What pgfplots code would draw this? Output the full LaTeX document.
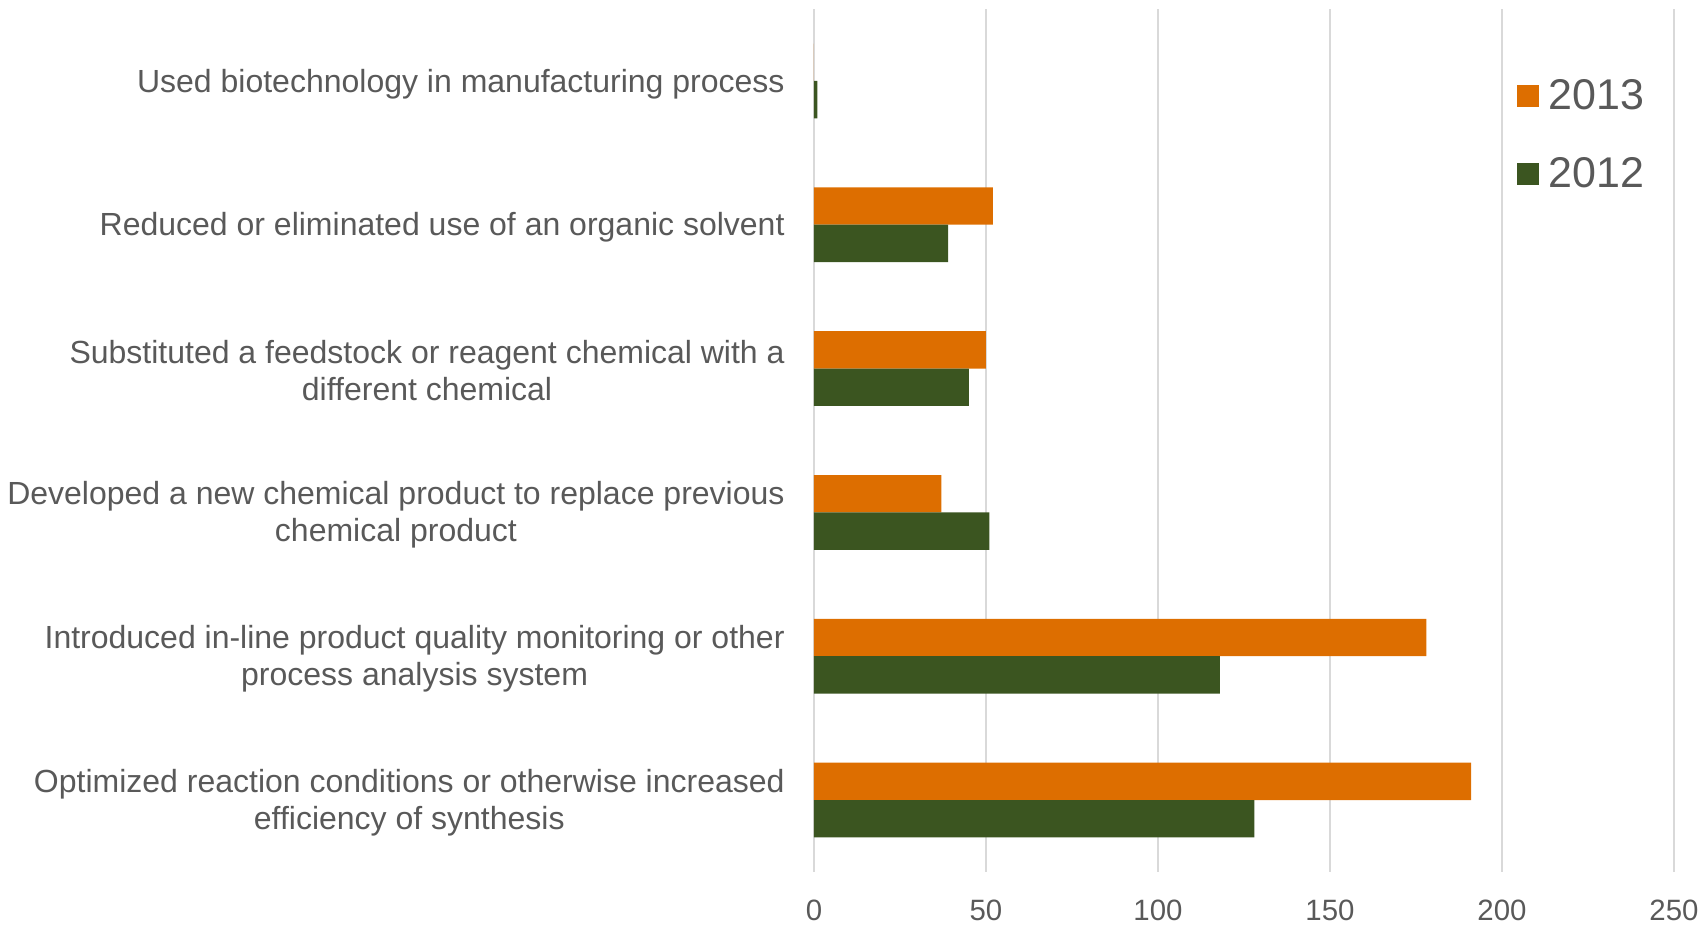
\documentclass[border=0pt]{standalone}
\usepackage{fontspec}
\setmainfont{Liberation Sans}
\usepackage{pgfplots}
\pgfplotsset{compat=1.18}

\definecolor{c2013}{HTML}{DD6E00}
\definecolor{c2012}{HTML}{3B5520}
\definecolor{gridc}{HTML}{D9D9D9}
\definecolor{txt}{HTML}{595959}

\begin{document}
\begin{tikzpicture}
\begin{axis}[
    xbar,
    scale only axis,
    width=430pt, height=431.5pt,
    xmin=0, xmax=250,
    ymin=-0.5, ymax=5.5,
    xtick={0,50,...,250},
    ytick={0,1,2,3,4,5},
    yticklabels={
        {Optimized reaction conditions or otherwise increased\\efficiency of synthesis},
        {Introduced in-line product quality monitoring or other\\process analysis system},
        {Developed a new chemical product to replace previous\\chemical product},
        {Substituted a feedstock or reagent chemical with a\\different chemical},
        {Reduced or eliminated use of an organic solvent},
        {\smash{\raisebox{-4.6pt}{Used biotechnology in manufacturing process}}}
    },
    /pgf/number format/assume math mode=true,
    xmajorgrids,
    grid style={color=gridc, line width=0.65pt},
    axis line style={draw=none},
    major tick length=0pt,
    tick style={draw=none},
    tick label style={text=txt},
    xticklabel style={font=\fontsize{14.7}{17}\selectfont, inner sep=0pt, anchor=north, yshift=-14pt},
    yticklabel style={font=\fontsize{16}{18.5}\selectfont, align=center, inner sep=0pt, anchor=east, xshift=-14.5pt, yshift=-1.2pt},
    bar width=0.26,
    legend cell align=left,
    legend style={
        at={(351.5/430,0.8537)}, anchor=west,
        draw=none, fill=none, inner sep=0pt, outer sep=0pt,
        font=\fontsize{21.5}{25}\selectfont, text=txt,
        row sep=22.5pt, column sep=5pt,
        nodes={inner sep=0pt},
    },
    legend image code/.code={\fill[#1] (0pt,-5.5pt) rectangle (11pt,5.5pt);},
]
% 2013
\addplot[fill=c2013, draw=none, bar shift=0.13] coordinates {
    (191,0) (178,1) (37,2) (50,3) (52,4) (0,5)
};
% 2012
\addplot[fill=c2012, draw=none, bar shift=-0.13] coordinates {
    (128,0) (118,1) (51,2) (45,3) (39,4) (1,5)
};
\legend{2013,2012}
\end{axis}
\pgfresetboundingbox
\path[use as bounding box] ([shift={(-407pt,-27pt)}]current axis.south west) rectangle ([shift={(444.5pt,436pt)}]current axis.south west);
\end{tikzpicture}
\end{document}
